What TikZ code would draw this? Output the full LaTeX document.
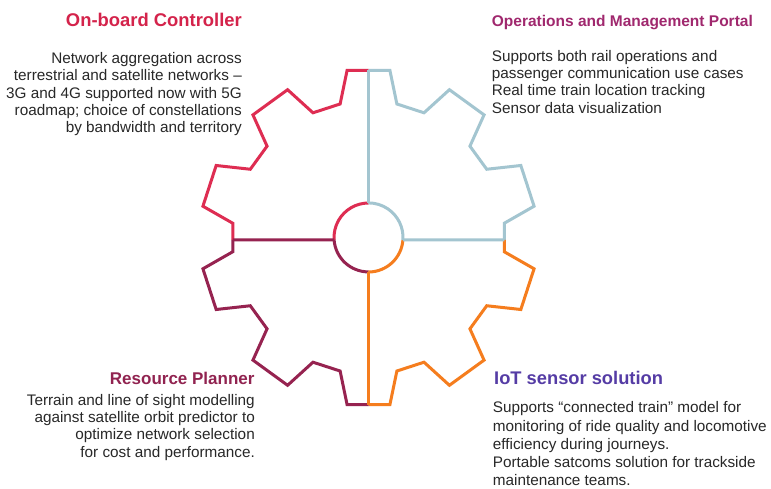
\documentclass[tikz,border=0pt]{standalone}
\usepackage{fontspec}
\setmainfont{Liberation Sans}

\definecolor{gearred}{RGB}{222,45,82}
\definecolor{gearblue}{RGB}{163,197,208}
\definecolor{gearorange}{RGB}{245,125,30}
\definecolor{gearmaroon}{RGB}{150,35,80}
\definecolor{ctrltitle}{RGB}{212,35,75}
\definecolor{portaltitle}{RGB}{160,40,110}
\definecolor{plantitle}{RGB}{145,35,80}
\definecolor{iottitle}{RGB}{85,60,165}
\definecolor{bodygray}{RGB}{40,40,40}

% point on the gear outline: angle (deg), radius (pt), around the hub centre
\newcommand\gearpt[2]{({368.5+(#2)*cos(#1)},{250.5+(#2)*sin(#1)})}

\begin{document}
\begin{tikzpicture}[x=1pt,y=1pt,
  gearline/.style={line width=3pt},
  redline/.style={gearline,draw=gearred},
  blueline/.style={gearline,draw=gearblue},
  orangeline/.style={gearline,draw=gearorange},
  maroonline/.style={gearline,draw=gearmaroon},
  bodytext/.style={font=\fontsize{15.3}{17.4}\selectfont,text=bodygray,inner sep=0pt},
  widebody/.style={font=\fontsize{15.3}{18.3}\selectfont,text=bodygray,inner sep=0pt},
  heading/.style={font=\bfseries\fontsize{#1}{#1}\selectfont,inner sep=0pt}]
\useasboundingbox (0,0) rectangle (771,488);
\fill[white] (0,0) rectangle (771,488);

% hub and spoke end points
\node[circle,minimum size=69pt,inner sep=0pt,outer sep=0pt] (hub) at (368.5,250.5) {};
\coordinate (topmid) at (368.5,417.6);
\coordinate (botmid) at (368.5,83.4);
\coordinate (leftroot) at (232.75,248);
\coordinate (rightroot) at (504.25,248);

% gear outline, one quarter per colour
\draw[redline] (topmid) -- \gearpt{97.3}{168.5} -- \gearpt{102}{136.5} -- \gearpt{114}{136.5}
  -- \gearpt{118.7}{168.5} -- \gearpt{133.3}{168.5} -- \gearpt{138}{136.5} -- \gearpt{150}{136.5}
  -- \gearpt{154.7}{168.5} -- \gearpt{169.3}{168.5} -- \gearpt{174}{136.5} -- (leftroot);
\draw[blueline] (topmid) -- \gearpt{82.7}{168.5} -- \gearpt{78}{136.5} -- \gearpt{66}{136.5}
  -- \gearpt{61.3}{168.5} -- \gearpt{46.7}{168.5} -- \gearpt{42}{136.5} -- \gearpt{30}{136.5}
  -- \gearpt{25.3}{168.5} -- \gearpt{10.7}{168.5} -- \gearpt{6}{136.5} -- (rightroot);
\draw[orangeline] (rightroot) -- \gearpt{-6}{136.5} -- \gearpt{-10.7}{168.5} -- \gearpt{-25.3}{168.5}
  -- \gearpt{-30}{136.5} -- \gearpt{-42}{136.5} -- \gearpt{-46.7}{168.5} -- \gearpt{-61.3}{168.5}
  -- \gearpt{-66}{136.5} -- \gearpt{-78}{136.5} -- \gearpt{-82.7}{168.5} -- (botmid);
\draw[maroonline] (botmid) -- \gearpt{-97.3}{168.5} -- \gearpt{-102}{136.5} -- \gearpt{-114}{136.5}
  -- \gearpt{-118.7}{168.5} -- \gearpt{-133.3}{168.5} -- \gearpt{-138}{136.5} -- \gearpt{-150}{136.5}
  -- \gearpt{-154.7}{168.5} -- \gearpt{-169.3}{168.5} -- \gearpt{-174}{136.5} -- (leftroot);

% hub ring
\draw[redline] (hub.90) arc[start angle=90,end angle=184.15,radius=34.5];
\draw[maroonline] (hub.184.15) arc[start angle=184.15,end angle=270,radius=34.5];
\draw[orangeline] (hub.270) arc[start angle=270,end angle=355.85,radius=34.5];
\draw[blueline] (hub.-4.15) arc[start angle=-4.15,end angle=90,radius=34.5];

% spokes
\draw[blueline] (hub.90) -- (topmid);
\draw[blueline] (hub.-4.15) -- (rightroot);
\draw[orangeline] (hub.270) -- (botmid);
\draw[maroonline] (hub.184.15) -- (leftroot);

% labels
\node[heading=18.4,text=ctrltitle,anchor=base east] (ctrlT) at (242,461.5) {On-board Controller};
\node[bodytext,anchor=north east,align=right] (ctrlB) at (242,435.9)
  {Network aggregation across\\terrestrial and satellite networks –\\3G and 4G supported now with 5G\\roadmap; choice of constellations\\by bandwidth and territory};

\node[heading=15.5,text=portaltitle,anchor=base west] (portalT) at (491.7,461) {Operations and Management Portal};
\node[bodytext,anchor=north west,align=left] (portalB) at (491.7,438.2)
  {Supports both rail operations and\\passenger communication use cases\\Real time train location tracking\\Sensor data visualization};

\node[heading=17,text=plantitle,anchor=base east] (planT) at (254.7,104) {Resource Planner};
\node[bodytext,anchor=north east,align=right] (planB) at (255,94.2)
  {Terrain and line of sight modelling\\against satellite orbit predictor to\\optimize network selection\\for cost and performance.};

\node[heading=18.3,text=iottitle,anchor=base west] (iotT) at (494,103.7) {IoT sensor solution};
\node[widebody,anchor=north west,align=left] (iotB) at (492.7,86.5)
  {Supports “connected train” model for\\monitoring of ride quality and locomotive\\efficiency during journeys.\\Portable satcoms solution for trackside\\maintenance teams.};
\end{tikzpicture}
\end{document}
